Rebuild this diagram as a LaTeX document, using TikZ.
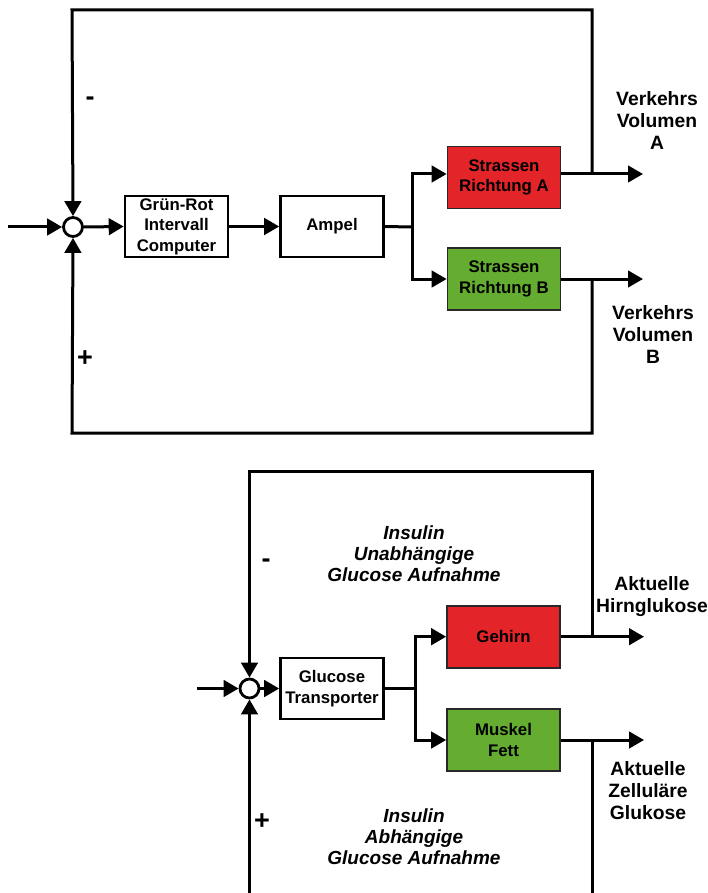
\documentclass[tikz,border=0pt]{standalone}
\usepackage{fontspec}
\setmainfont{Liberation Sans}
\usetikzlibrary{arrows.meta}
\definecolor{boxred}{RGB}{227,36,40}
\definecolor{boxgreen}{RGB}{100,173,48}
\definecolor{boxedge}{RGB}{40,40,40}
\begin{document}
\begin{tikzpicture}[x=1pt,y=-1pt,
  line/.style={line width=3pt},
  arr/.style={line width=3pt,-{Triangle[length=15pt,width=16.5pt]}},
  sumnode/.style={circle,draw,line width=2.8pt,fill=white,minimum size=19pt,inner sep=0pt},
  blk/.style={draw,line width=2.6pt,fill=white,minimum width=103pt,minimum height=61pt,
    align=center,inner sep=0pt,font=\fontsize{16.8}{20.5}\selectfont\bfseries},
  redblk/.style={blk,draw=boxedge,line width=1.7pt,fill=boxred,minimum width=113pt,minimum height=62pt},
  greenblk/.style={blk,draw=boxedge,line width=1.7pt,fill=boxgreen,minimum width=113pt,minimum height=62pt},
  outlabel/.style={align=center,inner sep=0pt,font=\fontsize{19.3}{22}\selectfont\bfseries},
  itlabel/.style={align=center,inner sep=0pt,font=\fontsize{19}{21}\selectfont\bfseries\itshape},
  signlabel/.style={inner sep=0pt,font=\fontsize{27}{28}\selectfont\bfseries}
]
\useasboundingbox (0,0) rectangle (707,893);

% ---------------- top diagram ----------------
\node[sumnode] (sum1) at (73,227) {};
\node[blk] (grc) at (176.5,226.5) {Grün-Rot\\Intervall\\Computer};
\node[blk] (amp) at (332,226.5) {Ampel};
\node[redblk] (rA) at (504,177.5) {Strassen\\Richtung A};
\node[greenblk] (gB) at (504,279) {Strassen\\Richtung B};

\coordinate (in1) at (8,227);
\coordinate (tl1) at (72,10);
\coordinate (tr1) at (592,10);
\coordinate (bl1) at (72,433);
\coordinate (brr1) at (592,433);
\coordinate (jA) at (592,174);
\coordinate (jB) at (592,279);
\coordinate (outA) at (643,174);
\coordinate (outB) at (643,279);
\coordinate (br1) at (412,227);

\draw[arr] (in1) -- (sum1.west);
\draw[arr] (sum1.east) -- (grc.west);
\draw[arr] (grc.east) -- (amp.west);
\draw[line] (amp.east) -- (br1);
\draw[arr] (br1) |- ([yshift=3.5pt]rA.west);
\draw[arr] (br1) |- (gB.west);
\draw[arr] ([yshift=3.5pt]rA.east) -- (outA);
\draw[arr] (gB.east) -- (outB);
\draw[arr] (jA) -- (tr1) -- (tl1) -- (sum1.north);
\draw[arr] (jB) -- (brr1) -- (bl1) -- (sum1.south);

\node[outlabel] (lA) at (657,121) {Verkehrs\\Volumen\\A};
\node[outlabel] (lB) at (653,335) {Verkehrs\\Volumen\\B};
\node[signlabel] (m1) at (90,101) {-};
\node[signlabel] (p1) at (85,359) {+};

% ---------------- bottom diagram ----------------
\node[sumnode] (sum2) at (249.5,688.5) {};
\node[blk] (gt) at (332,688.5) {Glucose\\Transporter};
\node[redblk] (geh) at (503.5,636.7) {Gehirn};
\node[greenblk] (mf) at (503.5,740) {Muskel\\Fett};

\coordinate (in2) at (197,688.5);
\coordinate (tl2) at (249.5,471);
\coordinate (tr2) at (592,471);
\coordinate (bl2) at (249.5,893);
\coordinate (brr2) at (592,893);
\coordinate (jG) at (592,636.7);
\coordinate (jM) at (592,740);
\coordinate (outG) at (644,636.7);
\coordinate (outM) at (644,740);
\coordinate (br2) at (415,688.5);

\draw[arr] (in2) -- (sum2.west);
\draw[arr] (sum2.east) -- (gt.west);
\draw[line] (gt.east) -- (br2);
\draw[arr] (br2) |- (geh.west);
\draw[arr] (br2) |- (mf.west);
\draw[arr] (geh.east) -- (outG);
\draw[arr] (mf.east) -- (outM);
\draw[arr] (jG) -- (tr2) -- (tl2) -- (sum2.north);
\draw[line] (jM) -- (brr2);
\draw[arr] (bl2) -- (sum2.south);

\node[outlabel] (lG) at (652,597) {Aktuelle\\Hirnglukose};
\node[outlabel] (lM) at (648,791) {Aktuelle\\Zelluläre\\Glukose};
\node[itlabel] (iU) at (414,554) {Insulin\\Unabhängige\\Glucose Aufnahme};
\node[itlabel] (iA) at (414,837) {Insulin\\Abhängige\\Glucose Aufnahme};
\node[signlabel] (m2) at (266,563) {-};
\node[signlabel] (p2) at (262,822) {+};
\end{tikzpicture}
\end{document}
